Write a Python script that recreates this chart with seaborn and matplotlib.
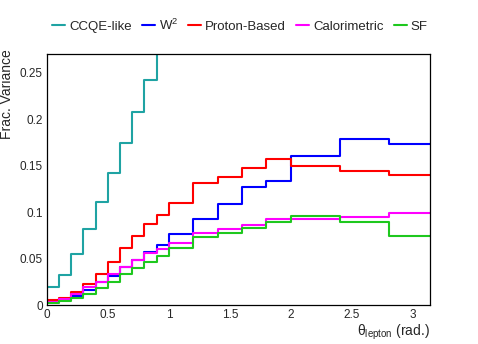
"""
Fractional variance vs lepton angle for several energy estimators,
drawn as step histograms in a ROOT-like style.
"""

# ============================================================================
# Import Required Libraries
# ============================================================================

import numpy as np
import pandas as pd

import matplotlib
matplotlib.use("Agg")
import matplotlib.pyplot as plt
from matplotlib.ticker import MultipleLocator

import seaborn as sns


# ============================================================================
# Data
# ============================================================================

bin_edges = [0.0, 0.1, 0.2, 0.3, 0.4, 0.5, 0.6, 0.7, 0.8, 0.9, 1.0,
             1.2, 1.4, 1.6, 1.8, 2.0, 2.4, 2.8, 3.1416]

ccqe_like = [0.020, 0.032, 0.055, 0.082, 0.111, 0.142, 0.174, 0.208, 0.242,
             0.30, 0.33, 0.36, 0.38, 0.40, 0.42, 0.44, 0.45, 0.46]

w2 = [0.004, 0.0055, 0.010, 0.016, 0.0245, 0.0315, 0.0405, 0.0485, 0.057,
      0.065, 0.0765, 0.093, 0.1085, 0.1275, 0.133, 0.160, 0.179, 0.1735]

proton_based = [0.005, 0.008, 0.0136, 0.0226, 0.034, 0.0467, 0.0614, 0.0743,
                0.0873, 0.097, 0.1096, 0.1315, 0.1375, 0.147, 0.157, 0.150,
                0.1445, 0.140]

calorimetric = [0.003, 0.0065, 0.0115, 0.019, 0.025, 0.033, 0.0413, 0.049,
                0.0557, 0.0603, 0.0668, 0.0772, 0.0815, 0.0862, 0.0923,
                0.0925, 0.0948, 0.0995]

sf = [0.0025, 0.004, 0.008, 0.0115, 0.0187, 0.0244, 0.033, 0.040, 0.0467,
      0.0528, 0.061, 0.0736, 0.0778, 0.0833, 0.0894, 0.0959, 0.0891, 0.0743]

series_names = ["CCQE-like", r"W$^{2}$", "Proton-Based", "Calorimetric", "SF"]
series_values = [ccqe_like, w2, proton_based, calorimetric, sf]
series_colors = ["#1fa3a3", "#0000ff", "#ff0000", "#ff00ff", "#1ec81e"]


# ============================================================================
# Configure Visualization
# ============================================================================

sns.set_theme(style="white")

plt.rcParams["font.family"] = ["Liberation Sans", "DejaVu Sans"]
plt.rcParams["mathtext.fontset"] = "custom"
plt.rcParams["mathtext.rm"] = "Liberation Sans"
plt.rcParams["mathtext.it"] = "Liberation Sans"
plt.rcParams["axes.edgecolor"] = "black"
plt.rcParams["axes.linewidth"] = 0.9


# ============================================================================
# Plot
# ============================================================================

fig = plt.figure(figsize=(4.78, 3.44), dpi=100)
ax = fig.add_axes([0.098, 0.113, 0.802, 0.730])

edges = np.array(bin_edges)
centers = (edges[:-1] + edges[1:]) / 2

for name, values, color in zip(series_names, series_values, series_colors):
    hist_df = pd.DataFrame({"theta": centers, "frac": values})
    sns.histplot(
        data=hist_df,
        x="theta",
        weights="frac",
        bins=bin_edges,
        element="step",
        fill=False,
        color=color,
        linewidth=1.5,
        label=name,
        ax=ax
    )

ax.set_xlim(0, 3.1416)
ax.set_ylim(0, 0.27)

ax.xaxis.set_major_locator(MultipleLocator(0.5))
ax.xaxis.set_minor_locator(MultipleLocator(0.1))
ax.yaxis.set_major_locator(MultipleLocator(0.05))
ax.yaxis.set_minor_locator(MultipleLocator(0.01))

ax.set_xticks([0, 0.5, 1, 1.5, 2, 2.5, 3])
ax.set_xticklabels(["0", "0.5", "1", "1.5", "2", "2.5", "3"])
ax.set_yticks([0, 0.05, 0.1, 0.15, 0.2, 0.25])
ax.set_yticklabels(["0", "0.05", "0.1", "0.15", "0.2", "0.25"])

ax.tick_params(axis="both", which="both", direction="in",
               top=False, right=False, labelsize=8.5, color="black")
ax.tick_params(axis="x", which="major", length=4.8, pad=3)
ax.tick_params(axis="x", which="minor", length=2.9)
ax.tick_params(axis="y", which="major", length=9.4, pad=3)
ax.tick_params(axis="y", which="minor", length=4.8)

ax.set_xlabel(r"$\mathrm{\theta_{lepton}}$ (rad.)", loc="right",
              fontsize=10, labelpad=1)
ax.set_ylabel("Frac. Variance", loc="top", fontsize=10)
ax.yaxis.set_label_coords(-0.085, 1.02)

ax.legend(
    loc="center",
    bbox_to_anchor=(0.502, 0.927),
    bbox_transform=fig.transFigure,
    ncol=5,
    frameon=False,
    fontsize=9.5,
    handlelength=1.0,
    handletextpad=0.3,
    columnspacing=0.75
)

plt.savefig("out.png", dpi=100)
